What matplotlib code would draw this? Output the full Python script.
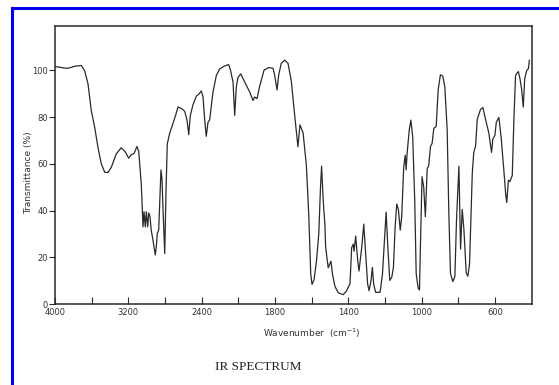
import numpy as np
import matplotlib
matplotlib.use("Agg")
import matplotlib.pyplot as plt
from matplotlib.lines import Line2D

# 读图得到的数据点 (cm-1, %T)
wavenumber = [
    4000, 3967, 3900, 3858, 3780, 3713, 3676, 3640, 3604, 3567, 3531, 3495, 3458, 3422,
    3386, 3331, 3277, 3233, 3196, 3168, 3138, 3120, 3106, 3087, 3059, 3040, 3029, 3015,
    3004, 2989, 2978, 2964, 2950, 2934, 2920, 2906, 2895, 2884, 2869, 2855, 2844, 2833,
    2819, 2803, 2789, 2775, 2749, 2713, 2688, 2658, 2622, 2585, 2560, 2541, 2524, 2494,
    2458, 2432, 2404, 2386, 2367, 2350, 2331, 2313, 2277, 2241, 2204, 2150, 2106, 2085,
    2058, 2040, 2022, 2004, 1987, 1965, 1938, 1920, 1911, 1898, 1884, 1860, 1834, 1811,
    1802, 1789, 1780, 1766, 1747, 1729, 1711, 1693, 1675, 1664, 1647, 1629, 1616, 1605,
    1598, 1587, 1574, 1561, 1552, 1546, 1537, 1528, 1524, 1510, 1495, 1486, 1473, 1455,
    1428, 1410, 1400, 1391, 1382, 1373, 1369, 1360, 1349, 1342, 1327, 1316, 1306, 1295,
    1287, 1276, 1269, 1262, 1251, 1227, 1214, 1203, 1194, 1185, 1174, 1163, 1154, 1145,
    1136, 1127, 1117, 1109, 1098, 1090, 1085, 1079, 1068, 1059, 1049, 1038, 1030, 1019,
    1012, 1007, 998, 989, 980, 970, 962, 952, 943, 934, 921, 910, 898, 885, 874, 861,
    852, 843, 830, 819, 810, 797, 788, 779, 770, 757, 748, 739, 724, 716, 706, 697, 679,
    666, 652, 634, 619, 612, 601, 593, 579, 566, 551, 542, 536, 527, 519, 506, 497, 488,
    473, 464, 455, 446, 438, 427, 418, 413,
]
transmittance = [
    101.5, 101.5, 101.0, 100.9, 101.8, 102.1, 99.8, 94.2, 82.7, 75.6, 67.0, 60.0, 56.4, 56.3,
    58.5, 64.3, 66.9, 65.1, 62.4, 63.9, 64.4, 66.1, 67.4, 65.4, 51.5, 33.0, 39.5, 33.0,
    39.5, 33.0, 39.0, 37.5, 31.5, 28.0, 24.5, 21.0, 24.5, 30.3, 31.6, 46.0, 57.4, 53.6,
    37.6, 21.6, 48.6, 68.6, 73.1, 77.4, 80.3, 84.3, 83.7, 82.5, 78.7, 72.5, 80.7, 85.4,
    89.0, 89.8, 91.2, 88.8, 78.8, 71.8, 77.8, 78.8, 90.6, 97.7, 100.6, 101.9, 102.5, 100.0,
    95.0, 80.7, 93.0, 97.0, 98.5, 95.0, 90.7, 87.1, 88.6, 87.9, 93.1, 100.1, 101.2, 100.9,
    98.0, 91.6, 98.0, 103.0, 104.4, 103.0, 95.3, 81.0, 67.3, 76.7, 73.3, 59.4, 38.4, 12.5,
    8.4, 10.4, 18.2, 30.4, 50.0, 59.0, 44.0, 34.0, 24.5, 15.5, 18.3, 12.5, 7.5, 4.8,
    4.0, 5.6, 7.3, 8.6, 24.1, 25.6, 22.6, 29.1, 18.6, 14.1, 24.2, 34.2, 21.7, 8.6,
    5.7, 10.2, 15.7, 8.6, 5.0, 5.0, 12.8, 27.2, 39.3, 24.8, 10.1, 11.5, 15.8, 32.8,
    42.8, 40.4, 31.6, 37.4, 58.7, 63.7, 57.4, 64.9, 74.4, 78.7, 71.6, 44.4, 12.9, 6.7,
    6.0, 24.6, 54.5, 50.0, 37.4, 58.0, 59.0, 67.4, 68.8, 75.2, 76.0, 91.7, 98.1, 97.6, 93.1, 74.6,
    38.9, 13.1, 9.6, 11.8, 36.2, 59.0, 23.5, 40.5, 32.2, 13.2, 11.9, 17.2, 56.2, 64.8, 67.7, 79.1, 83.3,
    84.1, 79.1, 73.3, 64.9, 70.6, 72.1, 77.8, 79.9, 70.7, 56.4, 47.1, 43.4, 53.0, 52.4, 55.0, 79.3, 97.9,
    99.5, 96.5, 91.9, 84.3, 96.5, 100.0, 100.7, 104.3,
]

x_ticks = [4000, 3600, 3200, 2800, 2400, 2000, 1800, 1600, 1400, 1200, 1000, 800, 600]
x_labels = ["4000", "", "3200", "", "2400", "", "1800", "", "1400", "", "1000", "", "600"]
y_ticks = [0, 20, 40, 60, 80, 100]


# 2000 cm-1 以上刻度压缩一半（典型红外谱图横轴）
def fwd(w):
    w = np.asarray(w, dtype=float)
    return np.where(w >= 2000, 2000 + (w - 2000) / 2, w)


def inv(p):
    p = np.asarray(p, dtype=float)
    return np.where(p >= 2000, 2000 + (p - 2000) * 2, p)


INK = "#2a2a2a"
fig = plt.figure(figsize=(5.59, 3.85), dpi=100)
ax = fig.add_axes([55 / 559, 81 / 385, 476.7 / 559, 278 / 385])
ax.set_xscale("function", functions=(fwd, inv))
ax.plot(wavenumber, transmittance, color=INK, lw=0.9)
ax.set_xlim(4000, 400)
ax.set_ylim(0, 119)

ax.set_xticks(x_ticks)
ax.set_xticklabels(x_labels)
ax.xaxis.set_minor_locator(plt.NullLocator())
ax.set_yticks(y_ticks)
ax.tick_params(axis="x", direction="in", length=5, width=0.8, labelsize=6,
               pad=3, color=INK, labelcolor="#333333")
ax.tick_params(axis="y", direction="out", length=4, width=0.8, labelsize=6,
               pad=1, color=INK, labelcolor="#333333")
for s in ax.spines.values():
    s.set_linewidth(1.1)
    s.set_color(INK)

fig.text(312 / 559, 1 - 333 / 385, "Wavenumber  (cm$^{-1}$)", ha="center", va="center",
         fontsize=6.5, color="#333333")
fig.text(28.5 / 559, 1 - 173 / 385, "Transmittance (%)", rotation=90, ha="center",
         va="center", fontsize=6.5, color="#333333")
fig.text(258 / 559, 1 - 366.5 / 385, "IR SPECTRUM", ha="center", va="center",
         family="Liberation Serif", fontsize=9.5, color="#222222")

# 外框蓝线（左、上）
fig.add_artist(Line2D([11.5 / 559, 11.5 / 559], [0, 1 - 8 / 385],
                      transform=fig.transFigure, color="#0000ee", lw=2.2))
fig.add_artist(Line2D([11.5 / 559, 1], [1 - 8 / 385, 1 - 8 / 385],
                      transform=fig.transFigure, color="#0000ee", lw=2.2))

fig.savefig("out.png", dpi=100)
